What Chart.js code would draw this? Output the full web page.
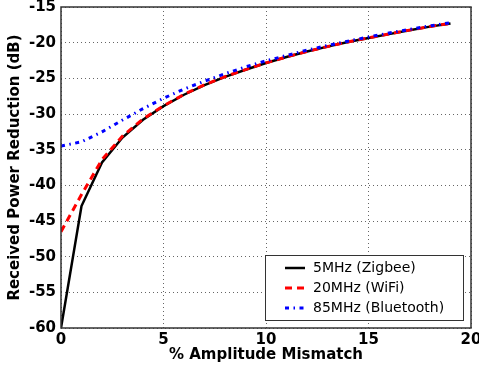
<!DOCTYPE html>
<html>
<head>
<meta charset="utf-8">
<script src="https://cdn.jsdelivr.net/npm/chart.js@4.4.1/dist/chart.umd.min.js"></script>
<style>
  html, body { margin: 0; padding: 0; background: white; }
  #wrap { width: 479px; height: 368px; }
</style>
</head>
<body>
<div id="wrap"><canvas id="line-chart"></canvas></div>
<script>
// datos
const mismatch = [0, 1, 2, 3, 4, 5, 6, 7, 8, 9, 10, 11, 12, 13, 14, 15, 16, 17, 18, 19];
const zigbee = [-60, -42.9, -36.8, -33.3, -30.8, -28.9, -27.3, -25.95, -24.8, -23.8,
                -22.85, -22.0, -21.25, -20.55, -19.9, -19.35, -18.8, -18.25, -17.75, -17.3];
const wifi = [-46.5, -41.3, -36.4, -33.1, -30.7, -28.85, -27.25, -25.9, -24.77, -23.77,
              -22.83, -22.0, -21.24, -20.55, -19.9, -19.33, -18.78, -18.24, -17.74, -17.28];
const bluetooth = [-34.5, -33.9, -32.5, -30.85, -29.25, -27.8, -26.5, -25.4, -24.35, -23.4,
                   -22.55, -21.8, -21.05, -20.4, -19.8, -19.2, -18.65, -18.15, -17.65, -17.2];
const xTicks = [0, 5, 10, 15, 20];
const yTicks = [-60, -55, -50, -45, -40, -35, -30, -25, -20, -15];

function pairs(ys) {
    return mismatch.map((x, i) => ({ x: x, y: ys[i] }));
}

// marco de la grafica
const frame = {
    id: 'frame',
    afterDatasetsDraw(chart) {
        const a = chart.chartArea;
        const ctx = chart.ctx;
        ctx.save();
        ctx.strokeStyle = '#333';
        ctx.lineWidth = 1.5;
        ctx.strokeRect(a.left, a.top, a.right - a.left, a.bottom - a.top);
        ctx.restore();
    }
};

// leyenda dentro del area
const boxLegend = {
    id: 'boxLegend',
    afterDraw(chart) {
        const ctx = chart.ctx;
        const x0 = 265, y0 = 255, w = 198, h = 65;
        ctx.save();
        ctx.fillStyle = 'white';
        ctx.fillRect(x0, y0, w, h);
        ctx.strokeStyle = '#333';
        ctx.lineWidth = 1;
        ctx.strokeRect(x0 + 0.5, y0 + 0.5, w, h);
        ctx.font = '14px "DejaVu Sans"';
        ctx.textBaseline = 'middle';
        chart.data.datasets.forEach((ds, i) => {
            const y = y0 + 13 + i * 20;
            ctx.beginPath();
            ctx.setLineDash(ds.borderDash || []);
            ctx.strokeStyle = ds.borderColor;
            ctx.lineWidth = ds.borderWidth;
            ctx.moveTo(x0 + 20, y);
            ctx.lineTo(x0 + 40, y);
            ctx.stroke();
            ctx.setLineDash([]);
            ctx.fillStyle = 'black';
            ctx.fillText(ds.label, x0 + 48, y);
        });
        ctx.restore();
    }
};

new Chart(document.getElementById('line-chart'), {
    type: 'line',
    data: {
        datasets: [
            {
                label: '5MHz (Zigbee)',
                data: pairs(zigbee),
                borderColor: 'black',
                borderWidth: 2.5,
                order: 3
            },
            {
                label: '20MHz (WiFi)',
                data: pairs(wifi),
                borderColor: '#ff0000',
                borderWidth: 3,
                borderDash: [7, 5],
                order: 2
            },
            {
                label: '85MHz (Bluetooth)',
                data: pairs(bluetooth),
                borderColor: '#0000ff',
                borderWidth: 3,
                borderDash: [4, 4.5, 1.5, 4.5],
                order: 1
            }
        ]
    },
    options: {
        responsive: true,
        maintainAspectRatio: false,
        animation: false,
        layout: { padding: 0 },
        elements: { point: { radius: 0 }, line: { tension: 0 } },
        plugins: { legend: { display: false }, tooltip: { enabled: false } },
        scales: {
            x: {
                type: 'linear',
                min: 0,
                max: 20,
                afterFit: axis => {
                    axis.height = 40;
                    axis.paddingLeft = 0;
                    axis.paddingRight = 8;
                },
                afterBuildTicks: axis => { axis.ticks = xTicks.map(v => ({ value: v })); },
                border: { display: false, dash: [1, 3] },
                grid: {
                    color: '#666',
                    lineWidth: 1,
                    drawTicks: false
                },
                ticks: {
                    color: 'black',
                    padding: 3,
                    maxRotation: 0,
                    font: { family: 'DejaVu Sans', size: 15, weight: 'bold' }
                },
                title: {
                    display: true,
                    text: '% Amplitude Mismatch',
                    color: 'black',
                    padding: { top: 0, bottom: 4 },
                    font: { family: 'DejaVu Sans', size: 15, weight: 'bold' }
                }
            },
            y: {
                min: -60,
                max: -15,
                afterFit: axis => {
                    axis.width = 61;
                    axis.paddingTop = 7;
                    axis.paddingBottom = 0;
                },
                afterBuildTicks: axis => { axis.ticks = yTicks.map(v => ({ value: v })); },
                border: { display: false, dash: [1, 3] },
                grid: {
                    color: '#666',
                    lineWidth: 1,
                    drawTicks: false
                },
                ticks: {
                    color: 'black',
                    padding: 5,
                    font: { family: 'DejaVu Sans', size: 15, weight: 'bold' }
                },
                title: {
                    display: true,
                    text: 'Received Power Reduction (dB)',
                    color: 'black',
                    padding: { top: 6, bottom: 0 },
                    font: { family: 'DejaVu Sans', size: 15, weight: 'bold' }
                }
            }
        }
    },
    plugins: [frame, boxLegend]
});
</script>
</body>
</html>
